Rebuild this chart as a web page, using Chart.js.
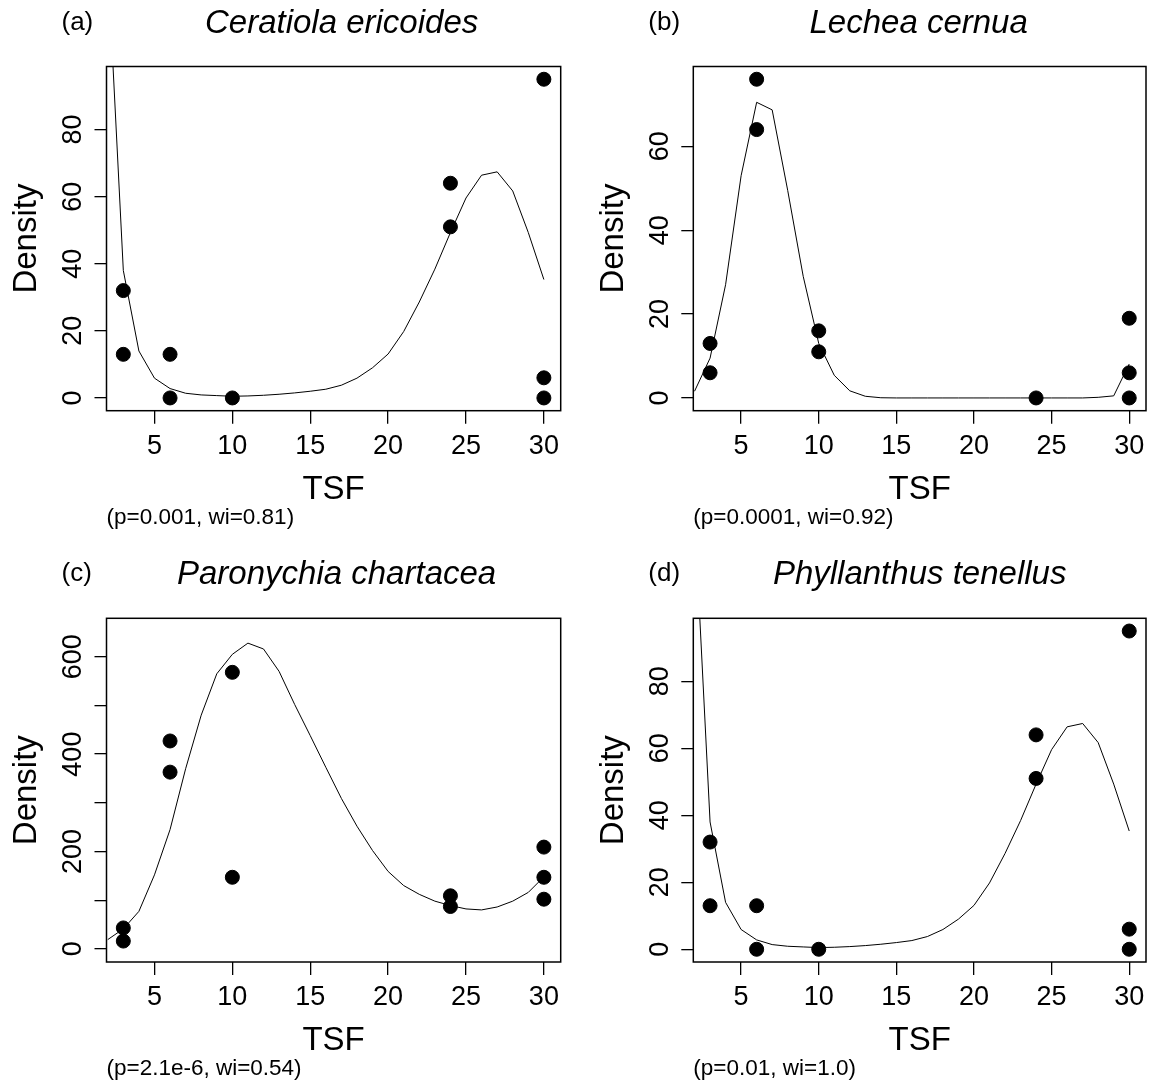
<!DOCTYPE html>
<html>
<head>
<meta charset="utf-8">
<script src="https://cdn.jsdelivr.net/npm/chart.js@4.4.0/dist/chart.umd.min.js"></script>
<style>
  body { margin: 0; background: #fff; width: 1154px; height: 1087px; position: relative; overflow: hidden; }
  canvas { position: absolute; }
</style>
</head>
<body>
<canvas id="pa" width="577" height="543" style="left:0;top:0"></canvas>
<canvas id="pb" width="577" height="543" style="left:577px;top:0"></canvas>
<canvas id="pc" width="577" height="543" style="left:0;top:544px"></canvas>
<canvas id="pd" width="577" height="543" style="left:577px;top:544px"></canvas>
<script>
// x axis (time since fire) shared by all panels
const tsfTicks = [5, 10, 15, 20, 25, 30];
const fitTsf = [2, 3, 4, 5, 6, 7, 8, 9, 10, 11, 12, 13, 14, 15, 16, 17, 18, 19, 20, 21, 22, 23, 24, 25, 26, 27, 28, 29, 30];

// (a) Ceratiola ericoides
const ceratiolaTsf = [3, 3, 6, 6, 10, 24, 24, 30, 30, 30];
const ceratiolaDensity = [32, 13, 13, 0, 0, 64, 51, 95, 6, 0];
const ceratiolaFit = [130, 38, 14, 5.9, 2.8, 1.4, 0.9, 0.7, 0.5, 0.6, 0.8, 1.1, 1.5, 2.0, 2.6, 3.8, 5.9, 9.0, 13.1, 19.8, 28.6, 38.4, 49.3, 59.6, 66.4, 67.4, 61.7, 49.3, 35.3];
const ceratiolaYTicks = [0, 20, 40, 60, 80];
const ceratiolaYLabels = ['0', '20', '40', '60', '80'];

// (b) Lechea cernua
const lecheaTsf = [3, 3, 6, 6, 10, 10, 24, 30, 30, 30];
const lecheaDensity = [13, 6, 76, 64, 16, 11, 0, 19, 6, 0];
const lecheaFit = [1.6, 9.5, 27, 53, 70.5, 68.7, 49.5, 29, 13, 5.4, 1.7, 0.4, 0.05, 0, 0, 0, 0, 0, 0, 0, 0, 0, 0, 0, 0, 0, 0.15, 0.5, 8.1];
const lecheaYTicks = [0, 20, 40, 60];
const lecheaYLabels = ['0', '20', '40', '60'];

// (c) Paronychia chartacea
const paronychiaTsf = [3, 3, 6, 6, 10, 10, 24, 24, 30, 30, 30];
const paronychiaDensity = [43, 16, 427, 363, 568, 147, 109, 87, 209, 147, 102];
const paronychiaFit = [19, 41, 77, 152, 245, 370, 480, 565, 605, 628, 616, 570, 502, 438, 373, 309, 252, 202, 159, 130, 112, 98, 89, 82, 80, 86, 98, 116, 148];
const paronychiaYTicks = [0, 100, 200, 300, 400, 500, 600];
const paronychiaYLabels = ['0', '', '200', '', '400', '', '600'];

// (d) Phyllanthus tenellus
const phyllanthusTsf = [3, 3, 6, 6, 10, 24, 24, 30, 30, 30];
const phyllanthusDensity = [32, 13, 13, 0, 0, 64, 51, 95, 6, 0];
const phyllanthusFit = [130, 38, 14, 5.9, 2.8, 1.4, 0.9, 0.7, 0.5, 0.6, 0.8, 1.1, 1.5, 2.0, 2.6, 3.8, 5.9, 9.0, 13.1, 19.8, 28.6, 38.4, 49.3, 59.6, 66.4, 67.4, 61.7, 49.3, 35.3];
const phyllanthusYTicks = [0, 20, 40, 60, 80];
const phyllanthusYLabels = ['0', '20', '40', '60', '80'];

const FONT = '"Liberation Sans", Arial, sans-serif';

const pts = (xs, ys) => xs.map((x, i) => ({ x: x, y: ys[i] }));

// box, R-style rotated y labels, titles and notes
const decor = {
  id: 'decor',
  afterDraw(chart, args, o) {
    const { ctx, chartArea: a, scales } = chart;
    const cx = (a.left + a.right) / 2, cy = (a.top + a.bottom) / 2;
    ctx.save();
    ctx.strokeStyle = '#000';
    ctx.lineWidth = 1.5;
    ctx.strokeRect(a.left, a.top, a.right - a.left, a.bottom - a.top);

    ctx.fillStyle = '#000';
    ctx.textBaseline = 'middle';
    ctx.textAlign = 'center';
    ctx.font = '27px ' + FONT;
    scales.y.ticks.forEach((t, i) => {
      const lab = o.yLabels[i];
      if (!lab) return;
      ctx.save();
      ctx.translate(a.left - 33, scales.y.getPixelForValue(t.value));
      ctx.rotate(-Math.PI / 2);
      ctx.fillText(lab, 0, 0);
      ctx.restore();
    });

    ctx.font = '33px ' + FONT;
    ctx.fillText('TSF', cx, a.bottom + 79);
    ctx.save();
    ctx.translate(a.left - 79.5, cy);
    ctx.rotate(-Math.PI / 2);
    ctx.fillText('Density', 0, 0);
    ctx.restore();

    ctx.font = 'italic 33px ' + FONT;
    ctx.fillText(o.title, cx + o.shift, a.top - 43);

    ctx.textAlign = 'left';
    ctx.font = '26px ' + FONT;
    ctx.fillText(o.tag, a.left - 45, a.top - 44);

    ctx.font = '22.5px ' + FONT;
    ctx.fillText(o.note, a.left, a.bottom + 107);
    ctx.restore();
  }
};

function makePanel(p) {
  const cv = document.getElementById(p.id);
  const [bl, bt, br, bb] = p.box;
  new Chart(cv, {
    type: 'scatter',
    data: {
      datasets: [
        {
          data: pts(p.tsf, p.density),
          showLine: false,
          pointRadius: 7,
          pointBackgroundColor: '#000',
          pointBorderColor: '#000',
          pointBorderWidth: 1
        },
        {
          data: pts(fitTsf, p.fit),
          showLine: true,
          borderColor: '#000',
          borderWidth: 1,
          pointRadius: 0,
          tension: 0,
          fill: false
        }
      ]
    },
    options: {
      responsive: false,
      animation: false,
      events: [],
      layout: { padding: { left: 0, top: bt - p.top, right: p.left + cv.width - br, bottom: 0 } },
      scales: {
        x: {
          type: 'linear',
          min: 1.92,
          max: 31.08,
          afterBuildTicks: s => { s.ticks = tsfTicks.map(v => ({ value: v })); },
          afterFit: s => { s.height = p.top + cv.height - bb; s.paddingLeft = 0; s.paddingRight = 0; },
          grid: { drawOnChartArea: false, tickLength: 13, color: '#000', lineWidth: 1.3 },
          border: { display: false },
          ticks: { color: '#000', font: { family: FONT, size: 27 }, padding: 6.8, maxRotation: 0, autoSkip: false }
        },
        y: {
          type: 'linear',
          min: p.yMin,
          max: p.yMax,
          afterBuildTicks: s => { s.ticks = p.yTicks.map(v => ({ value: v })); },
          afterFit: s => { s.width = bl - p.left; s.paddingTop = 0; s.paddingBottom = 0; },
          grid: { drawOnChartArea: false, tickLength: 12, color: '#000', lineWidth: 1.3 },
          border: { display: false },
          ticks: { display: false }
        }
      },
      plugins: {
        legend: { display: false },
        tooltip: { enabled: false },
        decor: { yLabels: p.yLabels, title: p.title, tag: p.tag, note: p.note, shift: p.shift }
      }
    },
    plugins: [decor]
  });
}

makePanel({ id: 'pa', left: 0, top: 0, box: [106.5, 66.5, 560.7, 410.7],
  tsf: ceratiolaTsf, density: ceratiolaDensity, fit: ceratiolaFit,
  yMin: -3.8, yMax: 98.8, yTicks: ceratiolaYTicks, yLabels: ceratiolaYLabels,
  title: 'Ceratiola ericoides', tag: '(a)', note: '(p=0.001, wi=0.81)', shift: 8 });

makePanel({ id: 'pb', left: 577, top: 0, box: [693.3, 66.5, 1148.3, 410.7],
  tsf: lecheaTsf, density: lecheaDensity, fit: lecheaFit,
  yMin: -3.04, yMax: 79.04, yTicks: lecheaYTicks, yLabels: lecheaYLabels,
  title: 'Lechea cernua', tag: '(b)', note: '(p=0.0001, wi=0.92)', shift: -1 });

makePanel({ id: 'pc', left: 0, top: 544, box: [106.5, 618.3, 560.7, 962],
  tsf: paronychiaTsf, density: paronychiaDensity, fit: paronychiaFit,
  yMin: -27, yMax: 679, yTicks: paronychiaYTicks, yLabels: paronychiaYLabels,
  title: 'Paronychia chartacea', tag: '(c)', note: '(p=2.1e-6, wi=0.54)', shift: 3 });

makePanel({ id: 'pd', left: 577, top: 544, box: [693.3, 618.3, 1148.3, 962],
  tsf: phyllanthusTsf, density: phyllanthusDensity, fit: phyllanthusFit,
  yMin: -3.8, yMax: 98.8, yTicks: phyllanthusYTicks, yLabels: phyllanthusYLabels,
  title: 'Phyllanthus tenellus', tag: '(d)', note: '(p=0.01, wi=1.0)', shift: 0 });
</script>
</body>
</html>
